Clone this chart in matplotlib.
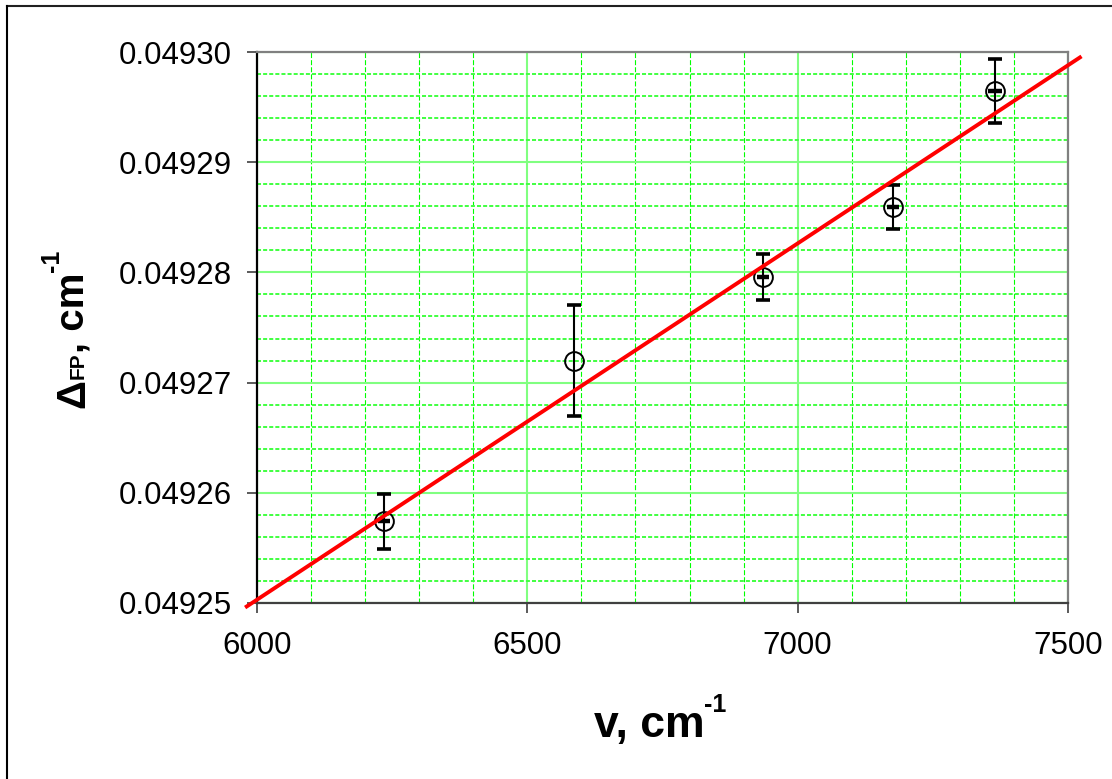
import matplotlib
matplotlib.use('Agg')
import matplotlib.pyplot as plt
from matplotlib.lines import Line2D
from matplotlib.ticker import FormatStrFormatter
from matplotlib.transforms import IdentityTransform
import numpy as np

plt.rcParams['font.family'] = ['Liberation Sans', 'DejaVu Sans']
plt.rcParams['lines.scale_dashes'] = False

wavenumber = [6235, 6586, 6936, 7176, 7365]
delta_fp = [0.0492574, 0.0492720, 0.0492796, 0.0492859, 0.0492965]
delta_err = [0.0000025, 0.0000050, 0.0000021, 0.0000020, 0.0000029]
wavenumber_err = [11, 0, 11, 11, 13]

# straight-line fit
fit_slope = 3.233e-8
fit_at_6000 = 0.0492503
fit_range = [5981, 7522]

x_ticks = [6000, 6500, 7000, 7500]
y_ticks = [0.04925, 0.04926, 0.04927, 0.04928, 0.04929, 0.04930]

W, H = 1112, 779
fig = plt.figure(figsize=(W / 100, H / 100), dpi=100)
ax = fig.add_axes([257 / W, 1 - 603 / H, (1068 - 257) / W, (603 - 52) / H])

# grid
ax.set_axisbelow(True)
ax.set_xticks(x_ticks)
ax.set_yticks(y_ticks)
ax.set_xticks(np.arange(6000, 7501, 100), minor=True)
ax.set_yticks(np.round(np.arange(0.04925, 0.0493001, 0.000002), 6), minor=True)
ax.grid(which='major', color='#80ff80', lw=1.5, ls='-')
ax.xaxis.grid(which='minor', color='#00ff00', lw=0.8, ls=(0, (3.6, 1.5)))
ax.yaxis.grid(which='minor', color='#40ff40', lw=1.4, ls=(0, (2.9, 1.5)))

ax.set_xlim(6000, 7500)
ax.set_ylim(0.04925, 0.04930)
ax.yaxis.set_major_formatter(FormatStrFormatter('%.5f'))

# data
ax.errorbar(wavenumber, delta_fp, yerr=delta_err, fmt='none', ecolor='black',
            elinewidth=1.5, capsize=5.2, capthick=2.6, zorder=3)
ax.errorbar(wavenumber, delta_fp, xerr=wavenumber_err, fmt='none', ecolor='black',
            elinewidth=3.2, capsize=0, zorder=3)
ax.plot(wavenumber, delta_fp, 'o', ms=13.5, mfc='none', mec='black', mew=1.4, zorder=4)

fx = np.array(fit_range, dtype=float)
fy = fit_at_6000 + fit_slope * (fx - 6000)
ax.plot(fx, fy, color='red', lw=2.8, clip_on=False, zorder=5)

# spines and ticks
ax.spines['left'].set_color('black')
ax.spines['bottom'].set_color('#404040')
ax.spines['top'].set_color('#808080')
ax.spines['right'].set_color('#808080')
for s in ax.spines.values():
    s.set_linewidth(1.6)
ax.tick_params(which='major', direction='out', length=7.2, width=1.2, labelsize=22.5,
               color='#404040')
ax.tick_params(axis='y', which='major', pad=11)
ax.tick_params(axis='x', which='major', pad=13)
ax.tick_params(which='minor', length=0)


def put_pieces(pieces, x0, y0, vertical=False):
    # lay out text pieces of different sizes on one baseline, centred on x0 / y0
    renderer = fig.canvas.get_renderer()
    texts = []
    for txt, size, rise in pieces:
        t = fig.text(0, 0, txt, fontsize=size, fontweight='bold', transform=IdentityTransform(),
                     ha='left', va='baseline', rotation=90 if vertical else 0,
                     rotation_mode='anchor')
        texts.append((t, rise))
    lengths = []
    for t, rise in texts:
        bb = t.get_window_extent(renderer)
        lengths.append(bb.height if vertical else bb.width)
    pos = -sum(lengths) / 2
    for (t, rise), ln in zip(texts, lengths):
        if vertical:
            t.set_position((x0 - rise, y0 + pos))
        else:
            t.set_position((x0 + pos, y0 + rise))
        pos += ln


put_pieces([("v, cm", 32, 0), ("-1", 18, 25)], 660, H - 737)
put_pieces([("\u0394", 29, 0), ("FP", 15, 0), (", cm", 29, 0), ("-1", 18, 25)],
           84, H - 329, vertical=True)

# outer frame (top and left edges visible)
fig.add_artist(Line2D([7 / W, 1], [1 - 6 / H] * 2, transform=fig.transFigure,
                      color='#202020', lw=1.5))
fig.add_artist(Line2D([7 / W] * 2, [0, 1 - 6 / H], transform=fig.transFigure,
                      color='black', lw=1.5))

fig.savefig('out.png', dpi=100)
